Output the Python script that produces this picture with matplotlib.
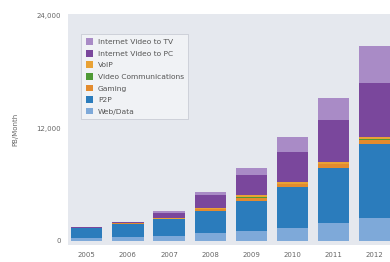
import numpy as np
import matplotlib.pyplot as plt

# data (PB per month)
years = ["2005", "2006", "2007", "2008", "2009", "2010", "2011", "2012"]
web_data = [350, 450, 550, 850, 1070, 1390, 1920, 2500]
p2p = [1050, 1400, 1750, 2350, 3200, 4370, 5870, 7850]
gaming = [20, 30, 60, 180, 350, 300, 380, 450]
video_comm = [5, 10, 15, 30, 40, 50, 40, 60]
voip = [10, 15, 30, 110, 250, 180, 220, 250]
video_pc = [60, 120, 600, 1390, 2130, 3200, 4480, 5760]
video_tv = [0, 10, 150, 320, 750, 1600, 2350, 3950]

layers = [
    ("Web/Data", web_data, "#7ea9d9"),
    ("P2P", p2p, "#2b7cbc"),
    ("Gaming", gaming, "#e38b2e"),
    ("Video Communications", video_comm, "#4f9a36"),
    ("VoIP", voip, "#e9a235"),
    ("Internet Video to PC", video_pc, "#7a479c"),
    ("Internet Video to TV", video_tv, "#a98bc6"),
]

fig = plt.figure(figsize=(3.9, 2.62), dpi=100)
ax = fig.add_axes([0.174, 0.065, 0.826, 0.882])
ax.set_facecolor("#e5e8ee")

x = np.arange(len(years))
bottom = np.zeros(len(years))
handles = []
for name, vals, col in layers:
    b = ax.bar(x, vals, width=0.76, bottom=bottom, color=col, label=name, linewidth=0)
    bottom += np.array(vals)
    handles.append(b)

ax.set_xlim(-0.46, 7.37)
ax.set_ylim(-427, 24213)
ax.set_yticks([0, 12000, 24000])
ax.set_yticklabels(["0", "12,000", "24,000"])
ax.set_xticks(x)
ax.set_xticklabels(years)
ax.tick_params(length=0, labelsize=5, colors="#666666", pad=5)
for s in ax.spines.values():
    s.set_visible(False)
ax.set_ylabel("PB/Month", fontsize=5, color="#666666", labelpad=13)

leg = ax.legend(handles[::-1], [l[0] for l in layers][::-1], loc="upper left",
                bbox_to_anchor=(0.03, 0.93), fontsize=5.4, frameon=True,
                handlelength=1.0, handleheight=1.0, labelspacing=0.62,
                borderpad=0.6, handletextpad=0.6, fancybox=False)
leg.get_frame().set_facecolor("#f4f5f8")
leg.get_frame().set_edgecolor("#b8bcc6")
leg.get_frame().set_linewidth(0.5)
for t in leg.get_texts():
    t.set_color("#555555")

fig.savefig("out.png", dpi=100)
